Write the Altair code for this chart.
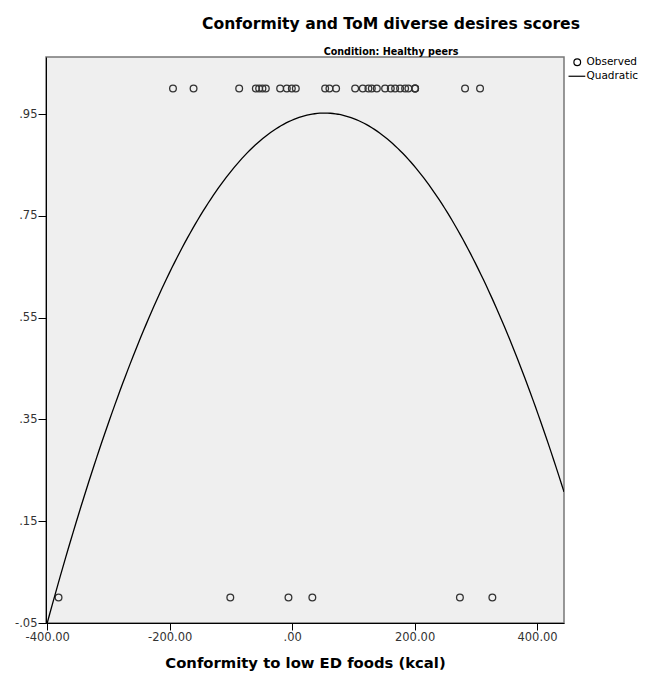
import altair as alt
import pandas as pd
import numpy as np

# Observed values (x = conformity kcal, y = ToM diverse desires score 0/1)
top_x = [-194.6, -161.0, -86.5, -59.3, -53.9, -48.5, -43.0, -19.6, -8.7, -0.5, 6.0,
         53.9, 60.9, 71.8, 102.9, 115.4, 124.6, 130.1, 138.3, 151.8, 161.1, 168.2,
         176.3, 184.5, 189.9, 200.8, 200.8, 200.8, 282.4, 306.9]
bottom_x = [-381.5, -101.0, -6.0, 33.0, 274.0, 327.0]

# Quadratic fit coefficients: y = b0 + b1*x + b2*x^2
b0 = 0.938
b1 = 5.198e-4
b2 = -4.876e-6
curve_x = list(np.linspace(-400, 444, 200))

obs = pd.DataFrame({
    "x": top_x + bottom_x,
    "y": [1.0] * len(top_x) + [0.0] * len(bottom_x),
    "series": ["Observed"] * (len(top_x) + len(bottom_x)),
})
fit = pd.DataFrame({"x": curve_x})
fit["y"] = b0 + b1 * fit["x"] + b2 * fit["x"] ** 2

x_ticks = [-400, -200, 0, 200, 400]
y_ticks = [-0.05, 0.15, 0.35, 0.55, 0.75, 0.95]

FONT = "DejaVu Sans"

xscale = alt.Scale(domain=[-402, 444], nice=False, zero=False)
yscale = alt.Scale(domain=[-0.05, 1.062], nice=False, zero=False)

xaxis = alt.Axis(
    values=x_ticks,
    labelExpr="datum.value == 0 ? '.00' : replace(format(datum.value, '.2f'), '\u2212', '-')",
    title="Conformity to low ED foods (kcal)",
    grid=False, domainColor="#000", tickColor="#000", tickSize=7,
    labelColor="#333", labelFontSize=11.5, labelFont=FONT,
    titleFont=FONT, titleFontSize=14.8, titleFontWeight="bold", titleColor="#000",
    titlePadding=13, labelPadding=1, labelFlush=False,
)
yaxis = alt.Axis(
    values=y_ticks,
    labelExpr="replace(replace(format(datum.value, '.2f'), '\u2212', '-'), '0.', '.')",
    title=None,
    grid=False, domainColor="#000", tickColor="#000", tickSize=8,
    labelColor="#333", labelFontSize=11.5, labelFont=FONT, labelPadding=1,
)

points = alt.Chart(obs).mark_point(
    shape="circle", filled=False, size=45, strokeWidth=1.3, color="#333", opacity=1
).encode(
    x=alt.X("x:Q", scale=xscale, axis=xaxis),
    y=alt.Y("y:Q", scale=yscale, axis=yaxis),
    shape=alt.Shape(
        "series:N",
        scale=alt.Scale(domain=["Observed", "Quadratic"],
                        range=["circle", "M-2.6,0H2.4"]),
        legend=alt.Legend(
            title=None, orient="none", legendX=526, legendY=0,
            labelFont=FONT, labelFontSize=10.5, labelColor="#000",
            symbolStrokeColor="#000", symbolFillColor="transparent",
            symbolSize=45, symbolStrokeWidth=1.2, rowPadding=2, labelOffset=4,
        ),
    ),
)

line = alt.Chart(fit).mark_line(color="#000", strokeWidth=1.3, clip=True).encode(
    x=alt.X("x:Q", scale=xscale),
    y=alt.Y("y:Q", scale=yscale),
)

chart = alt.layer(points, line).properties(
    width=518,
    height=566,
    background="white",
    autosize=alt.AutoSizeParams(type="none"),
    padding={"left": 46, "top": 57, "right": 100, "bottom": 54},
    title=alt.TitleParams(
        text="Conformity and ToM diverse desires scores",
        subtitle="Condition: Healthy peers",
        font=FONT, fontSize=15.6, fontWeight="bold", color="#000",
        subtitleFont=FONT, subtitleFontSize=9.6, subtitleFontWeight="bold", subtitleColor="#000",
        anchor="middle", dx=86, offset=0, subtitlePadding=15,
    ),
).configure_view(
    fill="#efefef", stroke="#777", strokeWidth=1.5
)

chart.save("out.html", embed_options={"renderer": "svg", "actions": False})
